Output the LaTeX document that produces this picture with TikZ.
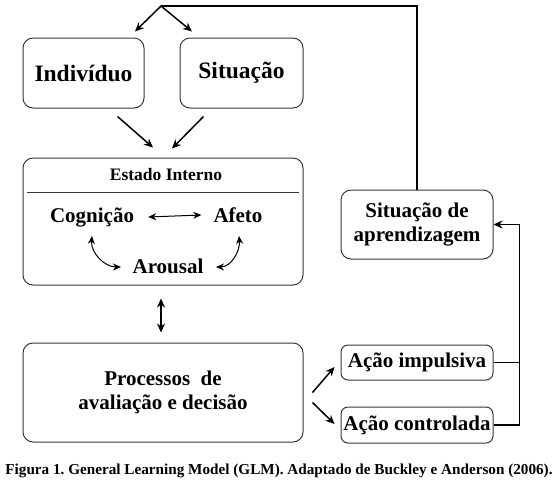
\documentclass[tikz,border=0pt]{standalone}
\usepackage{fontspec}
\setmainfont{Liberation Serif}
\usepackage{tikz}
\usetikzlibrary{arrows.meta}
\usetikzlibrary{positioning}
\definecolor{framegray}{RGB}{55, 55, 55}
\frenchspacing
\tikzset{
  box/.style={draw=framegray, line width=1pt, rounded corners=10pt, align=center,
    inner sep=0pt, font=\bfseries\fontsize{21}{24}\selectfont},
  label/.style={inner sep=0pt, font=\bfseries\fontsize{21}{24}\selectfont},
  flow/.style={-{Stealth[length=9pt,width=8pt]}, line width=1.5pt},
  twoflow/.style={{Stealth[length=9pt,width=8pt]}-{Stealth[length=9pt,width=8pt]}, line width=1.5pt},
  thinflow/.style={{Stealth[length=8pt,width=7pt]}-{Stealth[length=8pt,width=7pt]}, line width=1pt},
  wire/.style={line width=1.5pt}
}
\begin{document}
\begin{tikzpicture}[x=1pt, y=1pt]
  \useasboundingbox (0,0) rectangle (559,-496);
  % top row
  \node[box, minimum width=121pt, minimum height=70pt, font=\bfseries\fontsize{23.5}{26}\selectfont] (indiv) at (83.5,-73) {Indivíduo};
  \node[box, minimum width=123pt, minimum height=70pt, font=\bfseries\fontsize{23.5}{26}\selectfont] (situ)  at (241.5,-73) {Situação};
  % internal state
  \node[box, minimum width=280pt, minimum height=127pt] (estado) at (163,-221.5) {};
  \node[label, font=\bfseries\fontsize{17.5}{20}\selectfont] (titulo) at (166,-175) {Estado Interno};
  \draw[framegray, line width=1pt] (27,-192) -- (299,-192);
  \node[label] (cogn)    at (92,-217)  {Cognição};
  \node[label] (afeto)   at (238,-215) {Afeto};
  \node[label] (arousal) at (168,-266) {Arousal};
  % decision
  \node[box, minimum width=280pt, minimum height=99pt] (proc) at (163,-392.5) {Processos~ de\\avaliação e decisão};
  % right column
  \node[box, minimum width=152pt, minimum height=69pt] (aprend) at (417,-224.5) {Situação de\\aprendizagem};
  \node[box, minimum width=152pt, minimum height=35pt, rounded corners=7pt] (impuls) at (417,-362.5) {Ação impulsiva};
  \node[box, minimum width=152pt, minimum height=36pt, rounded corners=7pt] (contr)  at (417,-425)   {Ação controlada};
  % caption
  \node[inner sep=0pt, font=\bfseries\fontsize{15.2}{17}\selectfont] (legenda) at (279,-471)
    {Figura 1. General Learning Model (GLM). Adaptado de Buckley e Anderson (2006).};

  % feedback loop
  \coordinate (topo) at (161,-6);
  \draw[wire] (aprend.north) |- (topo);
  \draw[flow] (topo) -- ([shift={(51.5,6)}]indiv.north);
  \draw[flow] (topo) -- ([shift={(-49.5,6)}]situ.north);
  \draw[flow] ([shift={(34,-8)}]indiv.south) -- ([shift={(-10,10)}]estado.north);
  \draw[flow] ([shift={(-38,-8)}]situ.south) -- ([shift={(9,9)}]estado.north);
  % inside the internal state
  \draw[thinflow] ([xshift=14]cogn.east) -- ([xshift=-12]afeto.west);
  \draw[thinflow] ([shift={(0,-19)}]cogn.center) to[out=-95, in=180] ([shift={(-47,-1)}]arousal.center);
  \draw[thinflow] ([shift={(1,-21)}]afeto.center) to[out=-85, in=0] ([shift={(48,-1)}]arousal.center);
  \draw[twoflow] ([shift={(-2,-13)}]estado.south) -- ([shift={(-2,10)}]proc.north);
  % actions
  \draw[flow] ([shift={(9,0)}]proc.east) -- ([shift={(-6,-4.5)}]impuls.west);
  \draw[flow] ([shift={(9,-10)}]proc.east) -- ([shift={(-6,1)}]contr.west);
  \draw[wire] (impuls.east) -- ++(26,0);
  \draw[flow] (contr.east) -- ++(26,0) |- (aprend.east);
\end{tikzpicture}
\end{document}
